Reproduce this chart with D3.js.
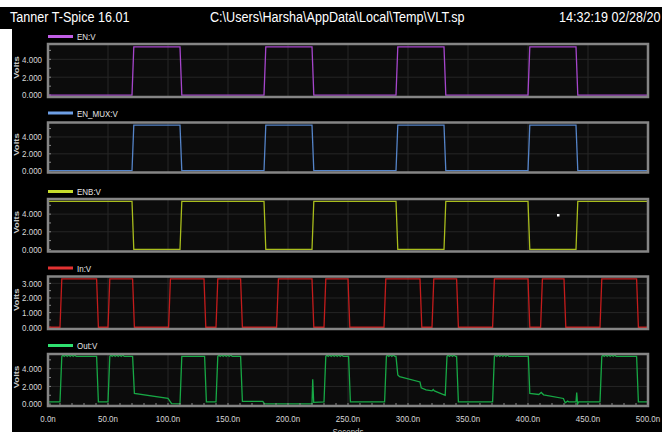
<!DOCTYPE html>
<html>
<head>
<meta charset="utf-8">
<script src="https://cdn.jsdelivr.net/npm/d3@7/dist/d3.min.js"></script>
<style>
  html, body { margin: 0; padding: 0; background: #ffffff; }
  svg { display: block; }
  text { font-family: "Liberation Sans", Arial, sans-serif; }
</style>
</head>
<body>
<svg id="chart" width="662" height="432"></svg>
<script>
// ---- Waveform data: [time (ns), volts] ----
const timeTicks = [0, 50, 100, 150, 200, 250, 300, 350, 400, 450, 500];
const timeMinorTicks = [0, 10, 20, 30, 40, 50, 60, 70, 80, 90, 100, 110, 120, 130, 140, 150, 160, 170, 180, 190,
  200, 210, 220, 230, 240, 250, 260, 270, 280, 290, 300, 310, 320, 330, 340, 350, 360, 370, 380, 390,
  400, 410, 420, 430, 440, 450, 460, 470, 480, 490, 500];

const enV = [[0,0],[70,0],[71.5,5.4],[110,5.4],[111.5,0],[180,0],[181.5,5.4],[220,5.4],[221.5,0],
  [290,0],[291.5,5.4],[330,5.4],[331.5,0],[400,0],[401.5,5.4],[440,5.4],[441.5,0],[500,0]];

const enMuxV = [[0,0],[70,0],[71.5,5.4],[110,5.4],[111.5,0],[180,0],[181.5,5.4],[220,5.4],[221.5,0],
  [290,0],[291.5,5.4],[330,5.4],[331.5,0],[400,0],[401.5,5.4],[440,5.4],[441.5,0],[500,0]];

const enbV = [[0,5.45],[70,5.45],[71.5,0],[110,0],[111.5,5.45],[180,5.45],[181.5,0],[220,0],[221.5,5.45],
  [290,5.45],[291.5,0],[330,0],[331.5,5.45],[400,5.45],[401.5,0],[440,0],[441.5,5.45],[500,5.45]];

const inV = [[0,0],[10,0],[11.5,3.3],[40.5,3.3],[42,0],[50,0],[51.5,3.3],[70.5,3.3],[72,0],
  [100.5,0],[102,3.3],[130,3.3],[131.5,0],[140,0],[141.5,3.3],[160.5,3.3],[162,0],
  [190.5,0],[192,3.3],[220,3.3],[221.5,0],[230,0],[231.5,3.3],[250,3.3],[251.5,0],
  [280,0],[281.5,3.3],[310,3.3],[311.5,0],[320,0],[321.5,3.3],[340.5,3.3],[342,0],
  [370.5,0],[372,3.3],[400,3.3],[401.5,0],[410.5,0],[412,3.3],[430,3.3],[431.5,0],
  [460,0],[461.5,3.3],[490.5,3.3],[492,0],[500,0]];

const outV = [
  [0,0.25],[10,0.25],[11.5,5.4],
  [12.5,5.55],[13.5,5.4],[15,5.55],[16,5.4],[17.5,5.55],[18.5,5.4],[20,5.55],[21,5.4],[22.5,5.55],[23.5,5.4],
  [40.5,5.4],[42,0.25],[50,0.25],[51.5,5.4],
  [52.5,5.55],[53.5,5.4],[55,5.55],[56,5.4],[57.5,5.55],[58.5,5.4],[60,5.55],[61,5.4],[62.5,5.55],[63.5,5.4],
  [70.5,5.4],[72,1.2],[100,0.64],[101,0.45],[103,0.05],[110,0.02],[111.5,5.4],
  [130.5,5.4],[132,0.25],[140,0.25],[141.5,5.4],
  [142.5,5.55],[143.5,5.4],[145,5.55],[146,5.4],[147.5,5.55],[148.5,5.4],[150,5.55],[151,5.4],[152.5,5.55],[153.5,5.4],
  [160.5,5.4],[162,0.3],[179,0.3],[180.5,0.02],[220,0.02],[220.6,2.8],[221.4,0.2],[230,0.25],[231.5,5.4],
  [232.5,5.55],[233.5,5.4],[235,5.55],[236,5.4],[237.5,5.55],[238.5,5.4],[240,5.55],[241,5.4],[242.5,5.55],[243.5,5.4],[245,5.55],[246,5.4],
  [250.5,5.4],[252,0.25],[280.5,0.25],[282,5.4],
  [283,5.55],[284,5.4],[285.5,5.55],[286.5,5.4],[288,5.55],[289,5.4],
  [290,5.4],[291.5,3.3],[293,3.1],[310,2.5],[311,1.85],[315,1.62],[320,1.5],[321,1.65],[322,1.5],[331,1.0],[332.5,5.4],
  [333.5,5.55],[334.5,5.4],[336,5.55],[337,5.4],[338.5,5.55],[339.5,5.4],
  [340.5,5.4],[342,0.25],[370.5,0.25],[372,5.4],
  [373,5.55],[374,5.4],[375.5,5.55],[376.5,5.4],[378,5.55],[379,5.4],[380.5,5.55],[381.5,5.4],[383,5.55],[384,5.4],
  [400.3,5.4],[401.5,1.2],[409,1.09],[411,1.32],[413,1.05],[429.5,0.64],[431,0.15],[433,0.34],[434,0.26],
  [440,0.26],[440.6,1.3],[441.3,0.0],[442.2,0.26],[460,0.26],[461.5,5.4],
  [462.5,5.55],[463.5,5.4],[465,5.55],[466,5.4],[467.5,5.55],[468.5,5.4],[470,5.55],[471,5.4],[472.5,5.55],[473.5,5.4],
  [490.5,5.4],[492,0.25],[500,0.25]
];

// stray cursor marker in the ENB pane: [time (ns), volts]
const enbMarker = [425, 3.9];

const seriesNames = ["EN:V", "EN_MUX:V", "ENB:V", "In:V", "Out:V"];
const seriesData = [enV, enMuxV, enbV, inV, outV];
const voltTicks5 = [0, 2, 4];
const voltMinor5 = [0, 1, 2, 3, 4, 5];
const voltTicks3 = [0, 1, 2, 3];
const voltMinor3 = [0, 0.5, 1, 1.5, 2, 2.5, 3];

// ---- Pane layout and styling ----
const paneStyle = [
  { top: 44,    bottom: 97,    legendY: 36.5,  domain: [-0.1, 5.6],  swatch: "#c15ee6", trace: "#a646cc" },
  { top: 122.5, bottom: 172.5, legendY: 113,   domain: [-0.1, 5.6],  swatch: "#6d9fe6", trace: "#5584c8" },
  { top: 199,   bottom: 251.5, legendY: 191.5, domain: [-0.12, 5.6], swatch: "#c6dc2c", trace: "#a9bd1c" },
  { top: 276.5, bottom: 329,   legendY: 268,   domain: [-0.05, 3.4], swatch: "#e23232", trace: "#c41c1c" },
  { top: 354,   bottom: 406,   legendY: 345.5, domain: [-0.1, 5.55], swatch: "#2fe070", trace: "#17a845" }
];

const W = 662, H = 432;
const left = 48, right = 648;
const NARROW = 0.84;   // horizontal squeeze that gives the condensed UI lettering
const svg = d3.select("#chart");

// condensed text helper: the squeeze is applied around the anchor point
function label(parent, tx, ty, str, opts) {
  const o = Object.assign({ size: 9.5, fill: "#d8d8d8", anchor: "start", weight: "normal", rotate: 0 }, opts || {});
  return parent.append("text")
    .attr("transform", `translate(${tx},${ty}) rotate(${o.rotate}) scale(${NARROW},1)`)
    .attr("text-anchor", o.anchor).attr("font-size", o.size).attr("font-weight", o.weight)
    .attr("fill", o.fill).text(str);
}

// background: black window with a white margin at top and left
svg.append("rect").attr("x", 0).attr("y", 0).attr("width", W).attr("height", H).attr("fill", "#ffffff");
svg.append("rect").attr("x", 0).attr("y", 7).attr("width", W).attr("height", 22).attr("fill", "#000000");
svg.append("rect").attr("x", 12).attr("y", 7).attr("width", W - 12).attr("height", H - 7).attr("fill", "#000000");

// title row
label(svg, 10, 22, "Tanner T-Spice 16.01", { size: 15, fill: "#ffffff" });
label(svg, 210, 22, "C:\\Users\\Harsha\\AppData\\Local\\Temp\\VLT.sp", { size: 15, fill: "#ffffff" });
label(svg, 559, 22, "14:32:19 02/28/20", { size: 15, fill: "#ffffff" });

const x = d3.scaleLinear().domain([0, 500]).range([left, right]);

seriesData.forEach((data, i) => {
  const p = paneStyle[i];
  const isIn = i === 3;
  const y = d3.scaleLinear().domain(p.domain).range([p.bottom - 1, p.top + 1]);
  const g = svg.append("g");

  // legend
  g.append("line").attr("x1", 48).attr("x2", 73).attr("y1", p.legendY).attr("y2", p.legendY)
    .attr("stroke", p.swatch).attr("stroke-width", 3);
  label(g, 77, p.legendY + 3.5, seriesNames[i], { fill: "#e6e6e6" });

  // plot area
  g.append("rect").attr("x", left).attr("y", p.top).attr("width", right - left).attr("height", p.bottom - p.top)
    .attr("fill", "#0c0c0c");

  // grid
  const major = isIn ? voltTicks3 : voltTicks5;
  const minor = isIn ? voltMinor3 : voltMinor5;
  g.selectAll(".hgrid").data(major.filter(v => v > 0)).enter().append("line")
    .attr("x1", left).attr("x2", right).attr("y1", d => y(d)).attr("y2", d => y(d))
    .attr("stroke", "#262626").attr("stroke-width", 1);
  g.selectAll(".vgrid").data(timeTicks.filter(t => t > 0 && t < 500)).enter().append("line")
    .attr("x1", d => x(d)).attr("x2", d => x(d)).attr("y1", p.top).attr("y2", p.bottom)
    .attr("stroke", "#262626").attr("stroke-width", 1);

  // y axis ticks (inside the left border) and labels
  g.selectAll(".ymin").data(minor).enter().append("line")
    .attr("x1", left).attr("x2", left + 3).attr("y1", d => y(d)).attr("y2", d => y(d))
    .attr("stroke", "#8a8a8a").attr("stroke-width", 1);
  major.forEach(v => label(g, 42, y(v) + 3.3, d3.format(".3f")(v), { anchor: "end" }));

  // Volts label
  const mid = (p.top + p.bottom) / 2 - 3;
  g.append("text").attr("transform", `translate(19,${mid}) rotate(-90) scale(1,${NARROW})`)
    .attr("text-anchor", "middle").attr("fill", "#c8c8c8").attr("font-size", 9.5)
    .attr("font-weight", "bold").text("Volts");

  // trace
  const clipId = "clip" + i;
  svg.append("clipPath").attr("id", clipId).append("rect")
    .attr("x", left).attr("y", p.top).attr("width", right - left).attr("height", p.bottom - p.top);
  const line = d3.line().x(d => x(d[0])).y(d => y(d[1]));
  g.append("path").datum(data).attr("d", line).attr("fill", "none")
    .attr("stroke", p.trace).attr("stroke-width", 1.3).attr("clip-path", `url(#${clipId})`);

  if (i === 2) {
    g.append("rect").attr("x", x(enbMarker[0]) - 1).attr("y", y(enbMarker[1]) - 1)
      .attr("width", 2.5).attr("height", 2.5).attr("fill", "#ffffff");
  }

  if (i === 4) {
    // minor time ticks along the bottom edge
    g.selectAll(".xmin").data(timeMinorTicks).enter().append("line")
      .attr("x1", d => x(d)).attr("x2", d => x(d)).attr("y1", p.bottom).attr("y2", p.bottom - 3)
      .attr("stroke", "#8a8a8a").attr("stroke-width", 1);
    timeTicks.forEach(t => label(g, x(t), 421.5, t.toFixed(1) + "n", { anchor: "middle" }));
    label(g, 348, 435, "Seconds", { anchor: "middle", fill: "#c8c8c8" });
  }

  // border
  g.append("rect").attr("x", left).attr("y", p.top).attr("width", right - left).attr("height", p.bottom - p.top)
    .attr("fill", "none").attr("stroke", "#858585").attr("stroke-width", 2.5);
});
</script>
</body>
</html>
